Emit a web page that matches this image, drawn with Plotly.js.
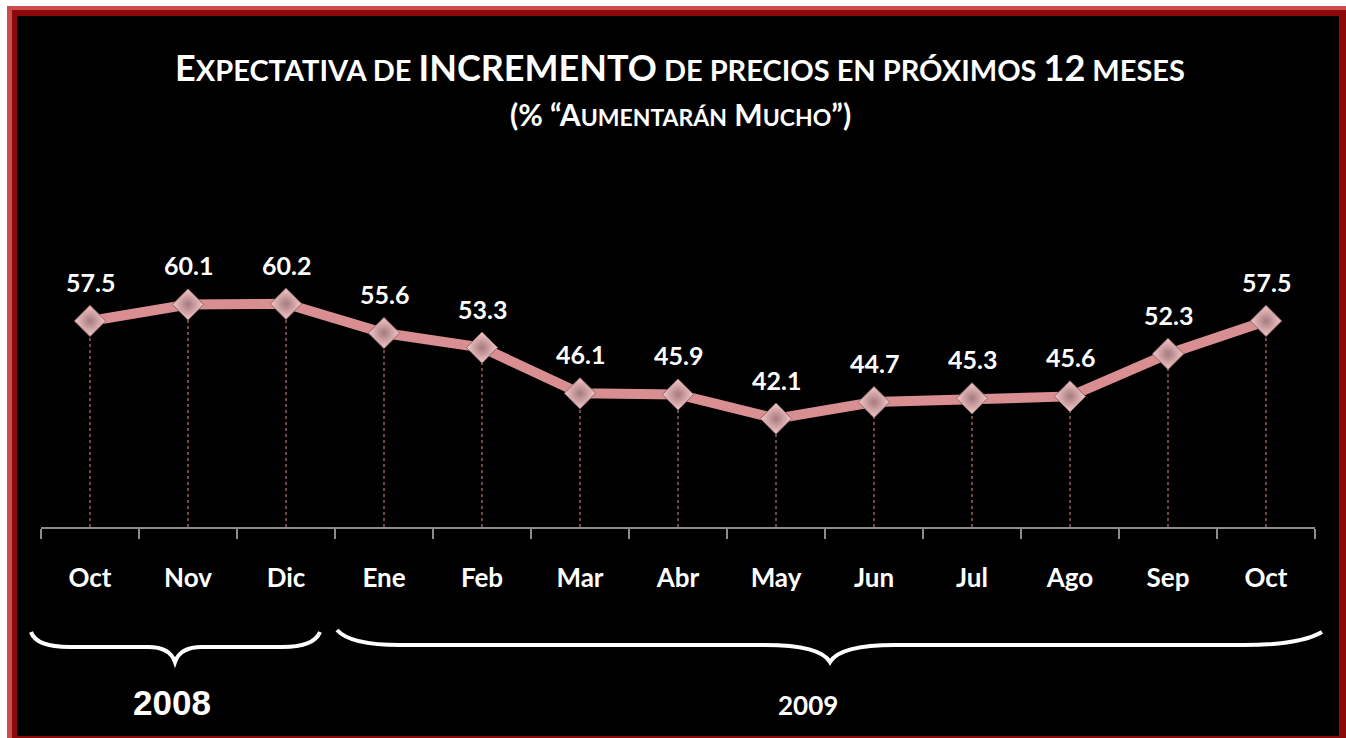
<!DOCTYPE html>
<html>
<head>
<meta charset="utf-8">
<script src="https://cdn.plot.ly/plotly-3.0.1.min.js"></script>
<style>
  html, body { margin: 0; padding: 0; background: #ffffff; width: 1346px; height: 738px; overflow: hidden; }
  #frame1 { position: absolute; left: 7px; top: 6px; width: 1339px; height: 732px; background: #cc4b4e; }
  #frame2 { position: absolute; left: 12px; top: 10px; width: 1334px; height: 728px; background: #8a0a0a; }
  #chart { position: absolute; left: 17px; top: 16px; width: 1322px; height: 720px; background: #000; }
</style>
</head>
<body>
<div id="frame1"></div>
<div id="frame2"></div>
<div id="chart"></div>
<script>
// ---- data ----
const months = ['Oct', 'Nov', 'Dic', 'Ene', 'Feb', 'Mar', 'Abr', 'May', 'Jun', 'Jul', 'Ago', 'Sep', 'Oct'];
const values = [57.5, 60.1, 60.2, 55.6, 53.3, 46.1, 45.9, 42.1, 44.7, 45.3, 45.6, 52.3, 57.5];
const yearLabels = ['2008', '2009'];

const idx = months.map((m, i) => i);

// ---- geometry helpers (plot area in page pixels: x 41..1315, y 210..527) ----
const X0 = 41, X1 = 1315, YT = 210, YB = 527;
const px = x => (x - X0) / (X1 - X0);
const py = y => (YB - y) / (YB - YT);
const P = (x, y) => px(x).toFixed(5) + ',' + py(y).toFixed(5);

const FONT = 'Lato, "Open Sans", sans-serif';
const YMIN = 25, YMAX = 75;

const trace = {
  x: idx,
  y: values,
  type: 'scatter',
  mode: 'lines+markers',
  line: { color: '#d98e91', width: 10 },
  marker: {
    symbol: 'diamond',
    size: 24,
    color: '#f7c8ca',
    gradient: { type: 'radial', color: '#a67b7e' },
    line: { color: '#8a6a6c', width: 1 }
  },
  hoverinfo: 'x+y',
  showlegend: false
};

const shapes = [];
// drop lines from each point to the axis
idx.forEach((i) => {
  shapes.push({
    type: 'line', xref: 'x', yref: 'y', layer: 'below',
    x0: i, x1: i, y0: YMIN, y1: values[i],
    line: { color: '#f08a8a', width: 1, dash: 'dot' }
  });
});
// year braces
const braces = [
  'M' + P(31, 632) + ' Q' + P(36, 647) + ' ' + P(70, 647) + ' L' + P(148, 647) +
  ' Q' + P(170, 647) + ' ' + P(175, 662) + ' Q' + P(180, 647) + ' ' + P(202, 647) +
  ' L' + P(282, 647) + ' Q' + P(314, 647) + ' ' + P(320, 632),
  'M' + P(337, 630) + ' Q' + P(350, 645) + ' ' + P(400, 645) + ' L' + P(765, 645) +
  ' Q' + P(820, 645) + ' ' + P(830, 662) + ' Q' + P(840, 645) + ' ' + P(895, 645) +
  ' L' + P(1243, 645) + ' Q' + P(1300, 645) + ' ' + P(1322, 632)
];
braces.forEach(p => shapes.push({
  type: 'path', xref: 'paper', yref: 'paper', path: p,
  line: { color: '#ffffff', width: 4 }
}));

const annotations = [];
// data labels
idx.forEach((i) => {
  annotations.push({
    x: i, y: values[i], xref: 'x', yref: 'y',
    text: '<b>' + values[i].toFixed(1) + '</b>', showarrow: false,
    yshift: 39, yanchor: 'middle',
    font: { family: FONT, size: 25, color: '#ffffff' }
  });
});
// subtitle
annotations.push({
  xref: 'paper', yref: 'paper', x: px(680), y: py(114), xanchor: 'center', yanchor: 'middle',
  showarrow: false,
  text: '<b>(% “A<span style="font-size:23px">UMENTARÁN</span> M<span style="font-size:23px">UCHO</span>”)</b>',
  font: { family: FONT, size: 30, color: '#ffffff' }
});
// year labels
annotations.push({
  xref: 'paper', yref: 'paper', x: px(172), y: py(702), xanchor: 'center', yanchor: 'middle',
  showarrow: false, text: '<b>' + yearLabels[0] + '</b>',
  font: { family: '"Liberation Sans", Arial, sans-serif', size: 35, color: '#ffffff' }
});
annotations.push({
  xref: 'paper', yref: 'paper', x: px(808), y: py(705), xanchor: 'center', yanchor: 'middle',
  showarrow: false, text: '<b>' + yearLabels[1] + '</b>',
  font: { family: FONT, size: 26, color: '#ffffff' }
});

const layout = {
  width: 1322, height: 720,
  margin: { l: 24, r: 24, t: 194, b: 209 },
  paper_bgcolor: '#000000',
  plot_bgcolor: '#000000',
  title: {
    text: '<b><span style="font-size:36px">E</span>XPECTATIVA DE <span style="font-size:36px">INCREMENTO</span> DE PRECIOS EN PRÓXIMOS <span style="font-size:36px">12</span> MESES</b>',
    font: { family: FONT, size: 29, color: '#ffffff' },
    x: (680 - 17) / 1322, xanchor: 'center',
    y: 1 - (71 - 16) / 720, yanchor: 'middle',
    xref: 'container', yref: 'container'
  },
  xaxis: {
    range: [-0.5, 12.5],
    tickmode: 'array', tickvals: idx, ticktext: months,
    ticks: '', ticklabelstandoff: 27,
    tickfont: { family: FONT, size: 26, color: '#ffffff', weight: 'bold' },
    showline: true, linecolor: '#8c8c8c', linewidth: 2,
    showgrid: false, zeroline: false,
    minor: { tick0: -0.5, dtick: 1, ticks: 'outside', ticklen: 10, tickwidth: 2, tickcolor: '#8c8c8c', showgrid: false },
    fixedrange: true
  },
  yaxis: {
    range: [YMIN, YMAX],
    visible: false, showgrid: false, zeroline: false, fixedrange: true
  },
  shapes: shapes,
  annotations: annotations,
  showlegend: false
};

Plotly.newPlot('chart', [trace], layout, { displayModeBar: false, staticPlot: true });
</script>
</body>
</html>
